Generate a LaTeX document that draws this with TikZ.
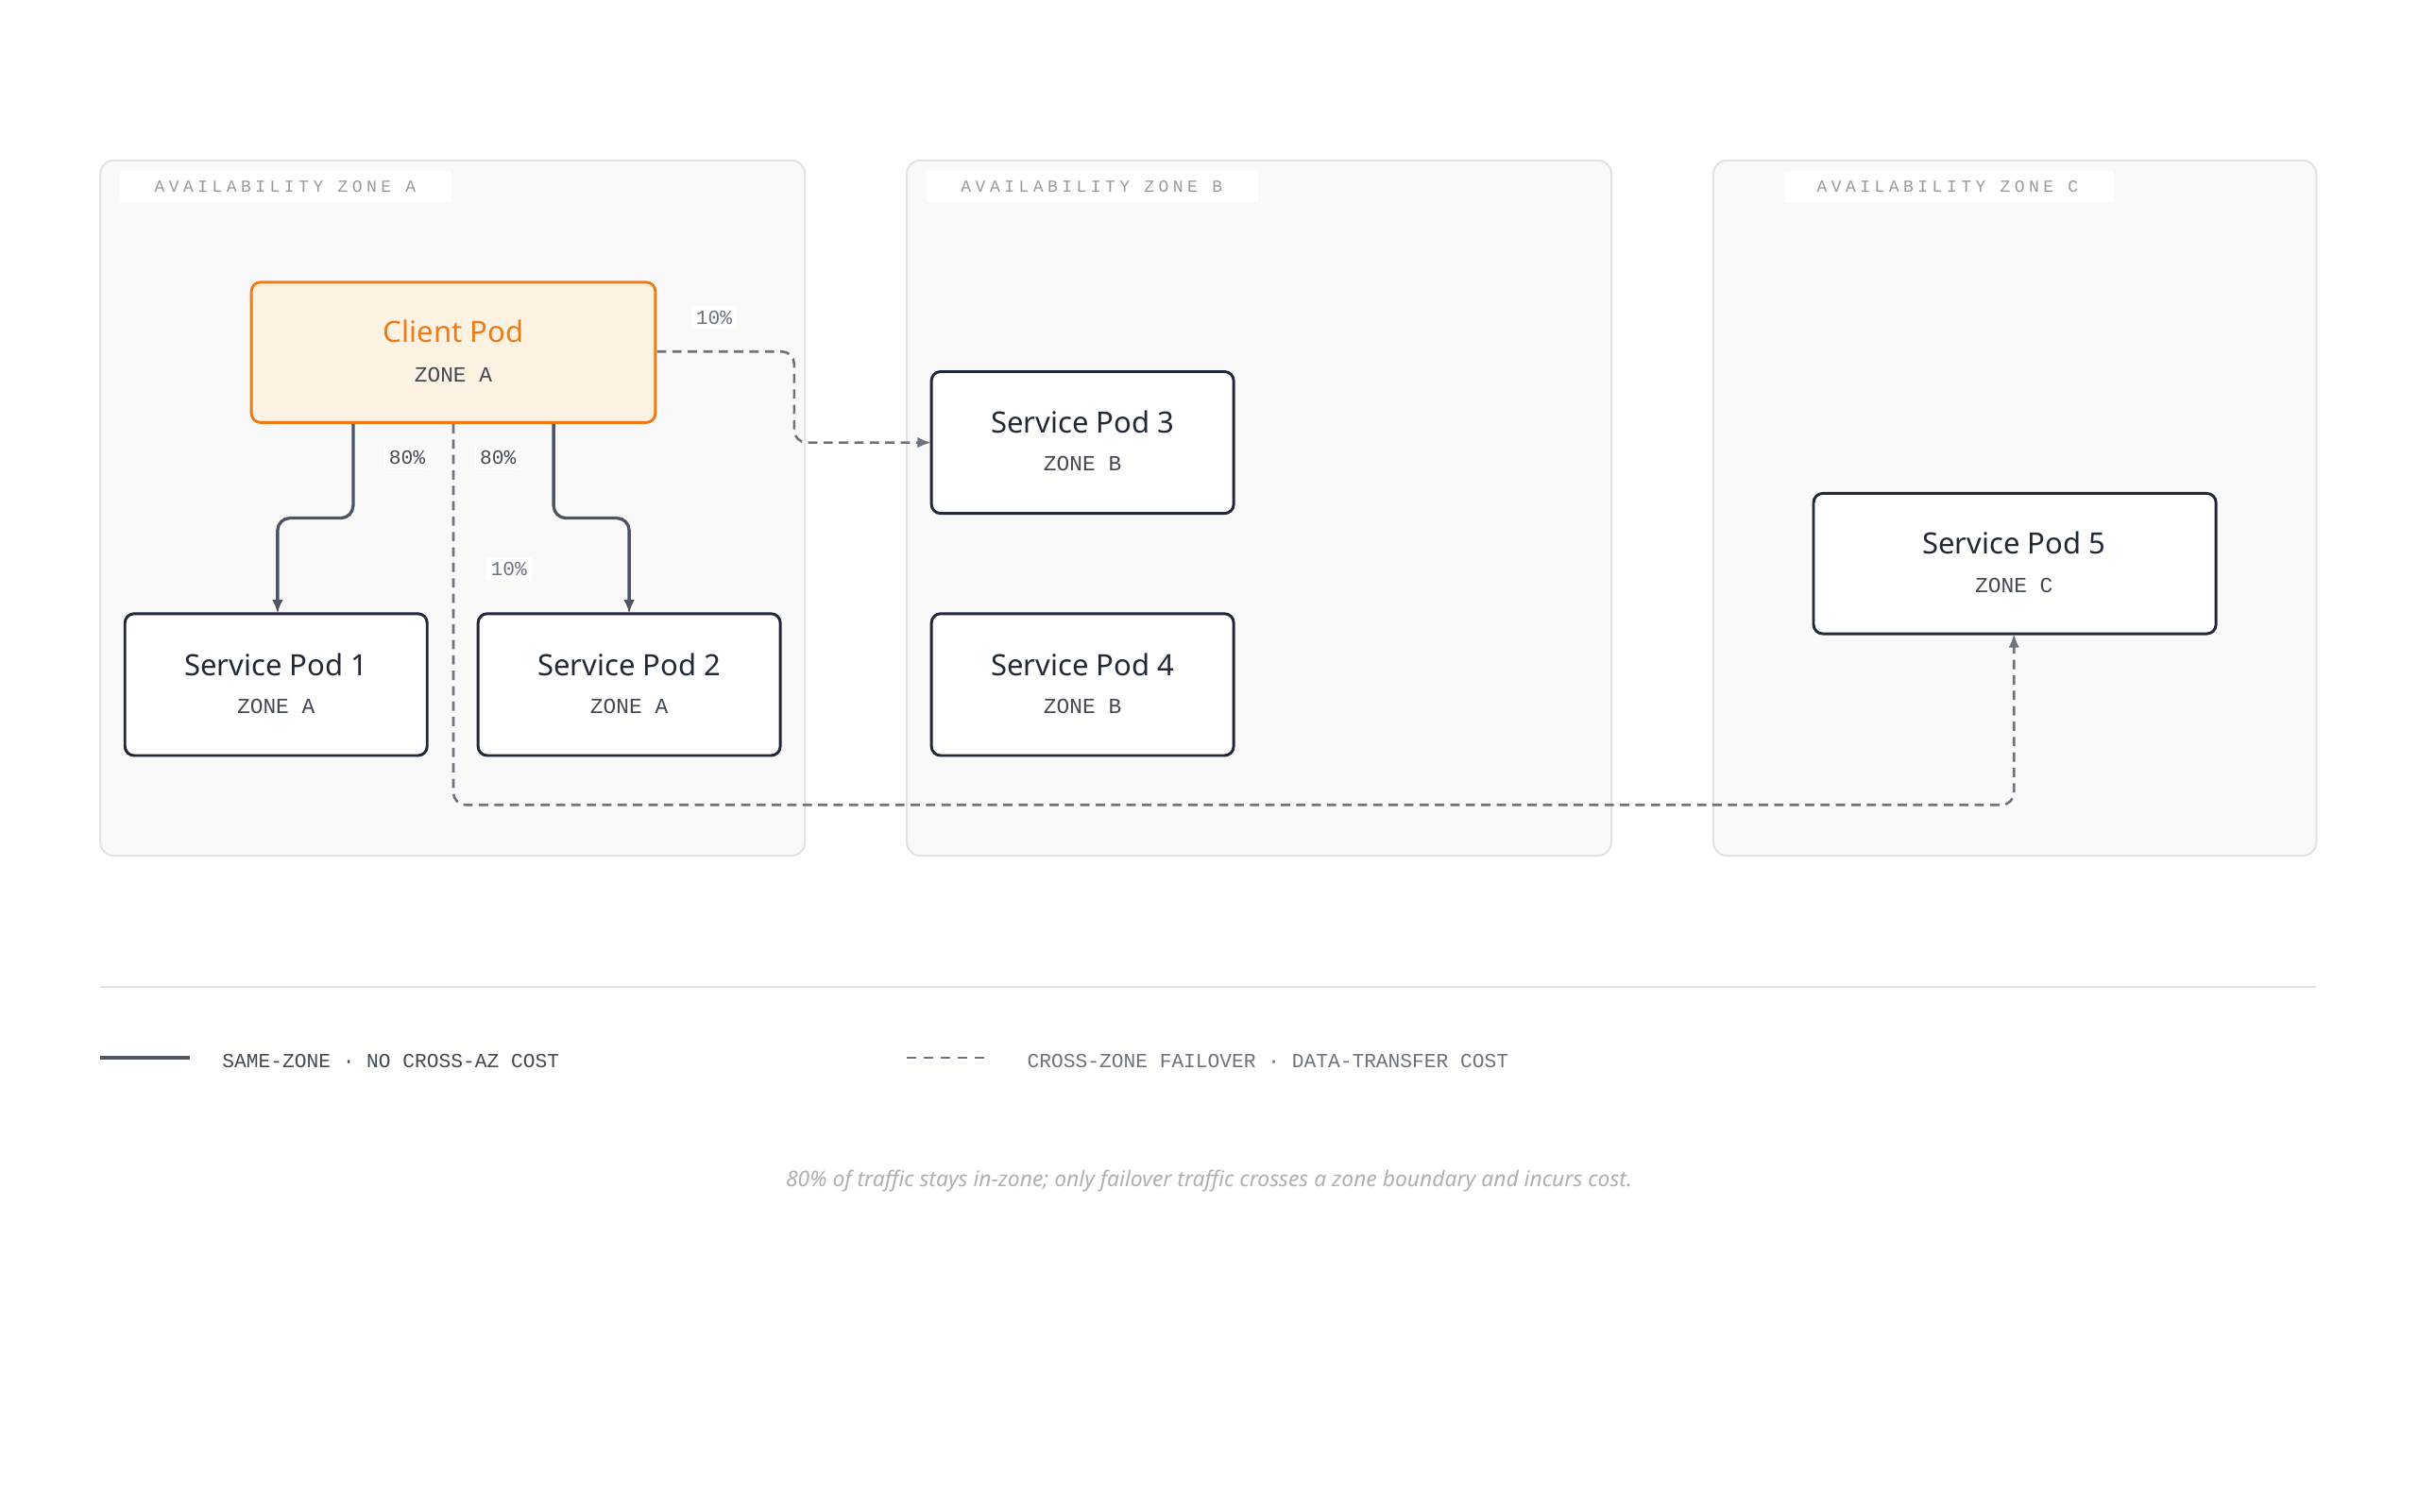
\documentclass[tikz,border=0pt]{standalone}
\usepackage{fontspec}
\setmainfont{Noto Sans}
\newfontfamily\monof{Liberation Mono}
\newfontfamily\monols[LetterSpace=25]{Liberation Mono}
\usetikzlibrary{arrows.meta}
\definecolor{zfill}{HTML}{F9F9F9}
\definecolor{zline}{HTML}{E2E2E2}
\definecolor{dark}{HTML}{1F2937}
\definecolor{edge}{HTML}{4B5563}
\definecolor{dedge}{HTML}{6B7280}
\definecolor{orng}{HTML}{F07A14}
\definecolor{ofill}{HTML}{FEF3E2}
\definecolor{cap}{HTML}{B0B0B0}
\begin{document}
\begin{tikzpicture}[x=1pt,y=-1pt,
 zone/.style={draw=zline,fill=zfill,rounded corners=9pt,line width=1.2pt},
 zlab/.style={fill=white,font=\monols\fontsize{11}{13}\selectfont,text=gray!80,anchor=west,inner sep=0pt},
 pod/.style={draw=dark,fill=white,line width=1.8pt,rounded corners=6pt},
 ttl/.style={font=\fontsize{19}{22}\selectfont\bfseries,text=dark},
 sub/.style={font=\monof\fontsize{14}{16}\selectfont,text=dark!85},
 solid edge/.style={draw=edge,line width=2pt,rounded corners=8pt,-{Latex[length=9pt,width=7pt]}},
 dash edge/.style={draw=dedge,line width=1.6pt,dash pattern=on 6pt off 4pt,rounded corners=8pt,-{Latex[length=9pt,width=7pt]}},
 pct/.style={fill=white,font=\monof\fontsize{13}{15}\selectfont,text=dark!85,inner sep=3pt},
 dpct/.style={pct,text=dedge}]
\useasboundingbox (0,0) rectangle (1568,980);
\fill[white] (0,0) rectangle (1568,980);
% zones
\draw[zone] (65,104) rectangle (522,555);
\draw[zone] (588,104) rectangle (1045,555);
\draw[zone] (1111,104) rectangle (1502,555);
\fill[white] (78,111) rectangle (293,131);
\fill[white] (601,111) rectangle (816,131);
\fill[white] (1157,111) rectangle (1371,131);
\node[zlab] (za) at (100,121) {AVAILABILITY ZONE A};
\node[zlab] (zb) at (623,121) {AVAILABILITY ZONE B};
\node[zlab] (zc) at (1178,121) {AVAILABILITY ZONE C};
% pods
\draw[pod,draw=orng,fill=ofill] (163,183) rectangle (425,274);
\coordinate (client) at (294,228);
\node[ttl,text=orng] (ct) at (294,215) {Client Pod};
\node[sub] (cs) at (294,243) {ZONE A};
\draw[pod] (81,398) rectangle (277,490);
\node[ttl] (t1) at (179,431) {Service Pod 1}; \node[sub] (s1) at (179,458) {ZONE A};
\draw[pod] (310,398) rectangle (506,490);
\node[ttl] (t2) at (408,431) {Service Pod 2}; \node[sub] (s2) at (408,458) {ZONE A};
\draw[pod] (604,241) rectangle (800,333);
\node[ttl] (t3) at (702,274) {Service Pod 3}; \node[sub] (s3) at (702,301) {ZONE B};
\draw[pod] (604,398) rectangle (800,490);
\node[ttl] (t4) at (702,431) {Service Pod 4}; \node[sub] (s4) at (702,458) {ZONE B};
\draw[pod] (1176,320) rectangle (1437,411);
\node[ttl] (t5) at (1306,352) {Service Pod 5}; \node[sub] (s5) at (1306,380) {ZONE C};
% anchor coordinates
\coordinate (c1) at (229,275); \coordinate (p1) at (180,398);
\coordinate (c2) at (359,275); \coordinate (p2) at (408,398);
\coordinate (c3) at (426,228); \coordinate (p3) at (604,287);
\coordinate (c5) at (294,275); \coordinate (p5) at (1306,411);
% edges
\draw[solid edge] (c1) -- (229,336) -- (180,336) -- (p1);
\draw[solid edge] (c2) -- (359,336) -- (408,336) -- (p2);
\draw[dash edge] (c3) -- (515,228) -- (515,287) -- (p3);
\draw[dash edge] (c5) -- (294,522) -- (1306,522) -- (p5);
\node[pct] (l1) at (264,297) {80\%};
\node[pct] (l2) at (323,297) {80\%};
\node[dpct] (l3) at (463,206) {10\%};
\node[dpct] (l4) at (330,369) {10\%};
% legend
\draw[zline,line width=1pt] (65,640) -- (1502,640);
\coordinate (ls1) at (65,686); \coordinate (ls2) at (123,686);
\draw[edge,line width=2pt] (ls1) -- (ls2);
\node[anchor=west,font=\monof\fontsize{13}{15}\selectfont,text=dark!85,inner sep=0pt] (lt1) at (144,688) {SAME-ZONE · NO CROSS-AZ COST};
\coordinate (ld1) at (588,686); \coordinate (ld2) at (641,686);
\draw[dedge,line width=1.6pt,dash pattern=on 6pt off 5pt] (ld1) -- (ld2);
\node[anchor=west,font=\monof\fontsize{13}{15}\selectfont,text=dedge,inner sep=0pt] (lt2) at (666,688) {CROSS-ZONE FAILOVER · DATA-TRANSFER COST};
\node[font=\itshape\fontsize{14}{16}\selectfont,text=cap] (capt) at (784,766) {80\% of traffic stays in-zone; only failover traffic crosses a zone boundary and incurs cost.};
\end{tikzpicture}
\end{document}
